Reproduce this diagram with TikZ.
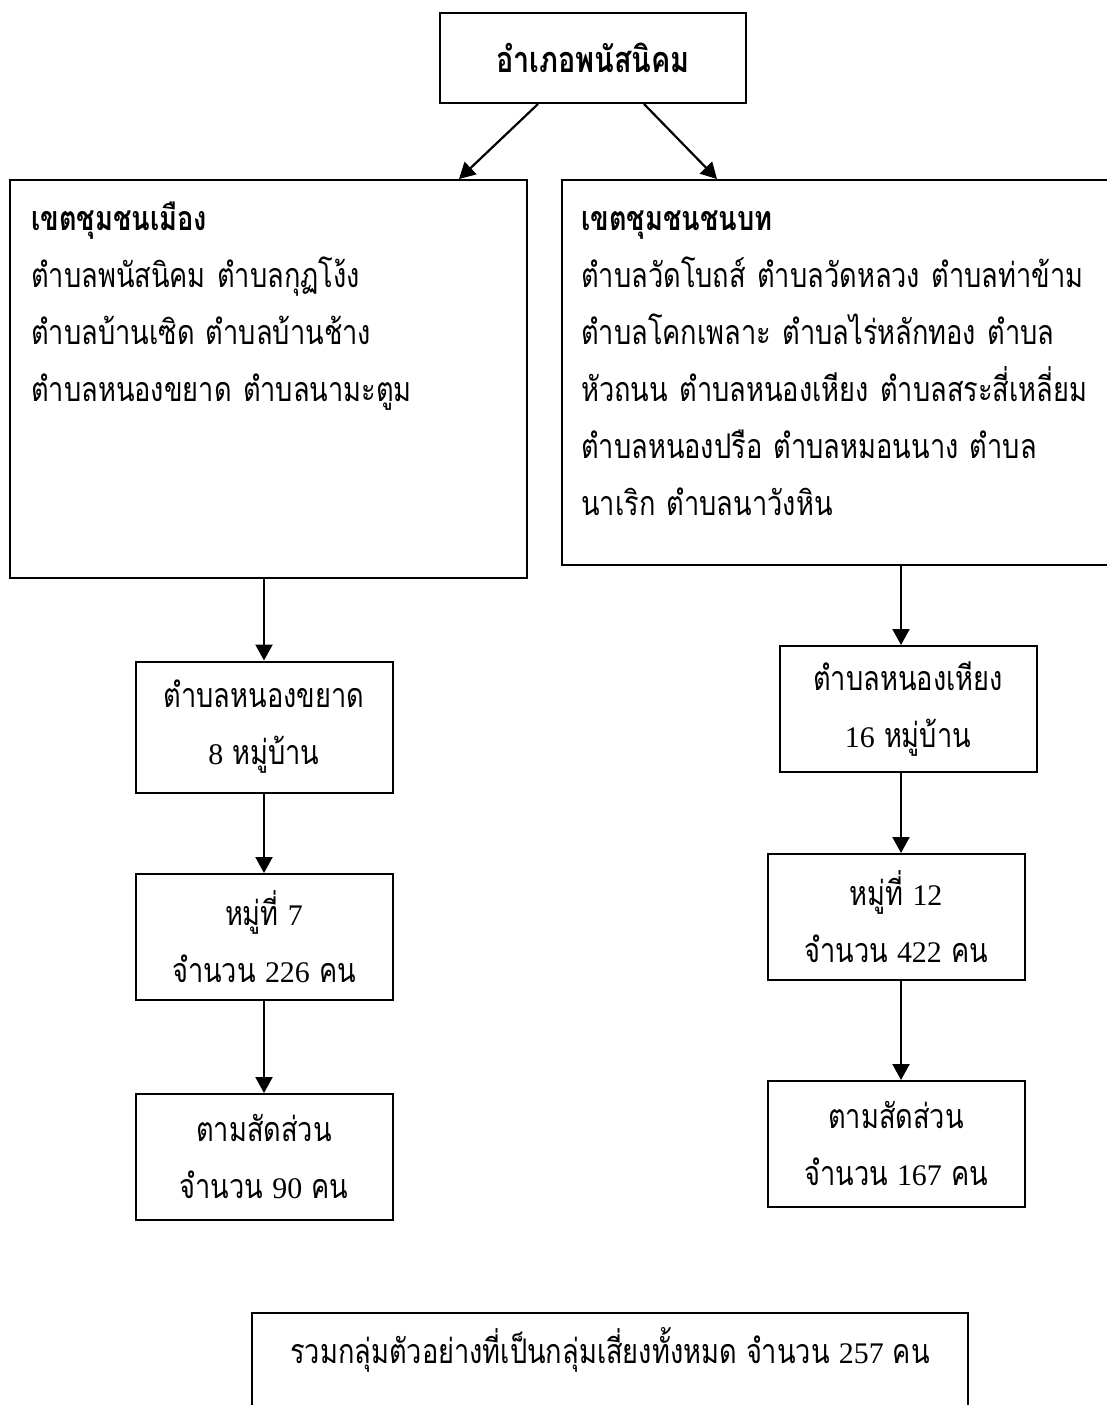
\documentclass[tikz,border=0pt]{standalone}
\usepackage{fontspec}
\setmainfont{Loma}[Script=Thai,FakeStretch=0.8]
\newfontfamily\digitfont{Liberation Serif}[Scale=0.88]
\newcommand\digits[1]{{\digitfont #1}}
\usetikzlibrary{positioning,arrows.meta,calc}
\definecolor{ink}{HTML}{000000}
\tikzset{
  box/.style={draw=ink,line width=2pt,inner sep=0pt},
  countbox/.style={box,minimum width=257pt,minimum height=126pt,align=center,font=\fontsize{34}{57}\selectfont},
  listtext/.style={anchor=base west,inner sep=0pt,text width=520pt,align=left,font=\fontsize{34}{57}\selectfont},
  flow/.style={draw=ink,line width=2.2pt,-{Triangle[length=16pt,width=17pt]}},
}
\begin{document}
\begin{tikzpicture}[x=1pt,y=-1pt]
\useasboundingbox (0,0) rectangle (1107,1405);
\fill[white] (0,0) rectangle (1107,1405);
% district
\node[box,minimum width=306pt,minimum height=90pt,font=\bfseries\fontsize{36}{40}\selectfont] (district) at (593,58) {อำเภอพนัสนิคม};
% zones
\node[box,anchor=north west,minimum width=517pt,minimum height=398pt] (urban) at (9,179) {};
\node[box,anchor=north west,minimum width=560pt,minimum height=385pt] (rural) at (561,179) {};
\node[listtext] (urbanlist) at (31,230) {{\bfseries เขตชุมชนเมือง}\\
ตำบลพนัสนิคม ตำบลกุฏโง้ง\\
ตำบลบ้านเซิด ตำบลบ้านช้าง\\
ตำบลหนองขยาด ตำบลนามะตูม};
\node[listtext] (rurallist) at (581,230) {{\bfseries เขตชุมชนชนบท}\\
ตำบลวัดโบถส์ ตำบลวัดหลวง ตำบลท่าข้าม\\
ตำบลโคกเพลาะ ตำบลไร่หลักทอง ตำบล\\
หัวถนน ตำบลหนองเหียง ตำบลสระสี่เหลี่ยม\\
ตำบลหนองปรือ ตำบลหมอนนาง ตำบล\\
นาเริก ตำบลนาวังหิน};
\draw[flow] ($(district.south)+(-55,0)$) -- ($(urban.north east)+(-69,0)$);
\draw[flow] ($(district.south)+(51,0)$) -- ($(rural.north west)+(156,0)$);
% urban column
\node[countbox,minimum height=131pt] (tambonA) at (264,727) {ตำบลหนองขยาด\\\digits{8} หมู่บ้าน};
\node[countbox] (mooA) at (264,937) {หมู่ที่ \digits{7}\\จำนวน \digits{226} คน};
\node[countbox] (shareA) at (264,1157) {ตามสัดส่วน\\จำนวน \digits{90} คน};
\draw[flow] (urban.south -| tambonA) -- (tambonA);
\draw[flow] (tambonA) -- (mooA);
\draw[flow] (mooA) -- (shareA);
% rural column
\coordinate (rcol) at (901,0);
\node[countbox] (tambonB) at (908,709) {ตำบลหนองเหียง\\\digits{16} หมู่บ้าน};
\node[countbox] (mooB) at (896,917) {หมู่ที่ \digits{12}\\จำนวน \digits{422} คน};
\node[countbox] (shareB) at (896,1144) {ตามสัดส่วน\\จำนวน \digits{167} คน};
\draw[flow] (rcol |- rural.south) -- (rcol |- tambonB.north);
\draw[flow] (rcol |- tambonB.south) -- (rcol |- mooB.north);
\draw[flow] (rcol |- mooB.south) -- (rcol |- shareB.north);
% total
\node[box,anchor=north,minimum width=716pt,minimum height=140pt] (total) at (610,1312) {};
\node[anchor=base,inner sep=0pt,font=\fontsize{34}{40}\selectfont] (totaltext) at (610,1363) {รวมกลุ่มตัวอย่างที่เป็นกลุ่มเสี่ยงทั้งหมด จำนวน \digits{257} คน};
\end{tikzpicture}
\end{document}
